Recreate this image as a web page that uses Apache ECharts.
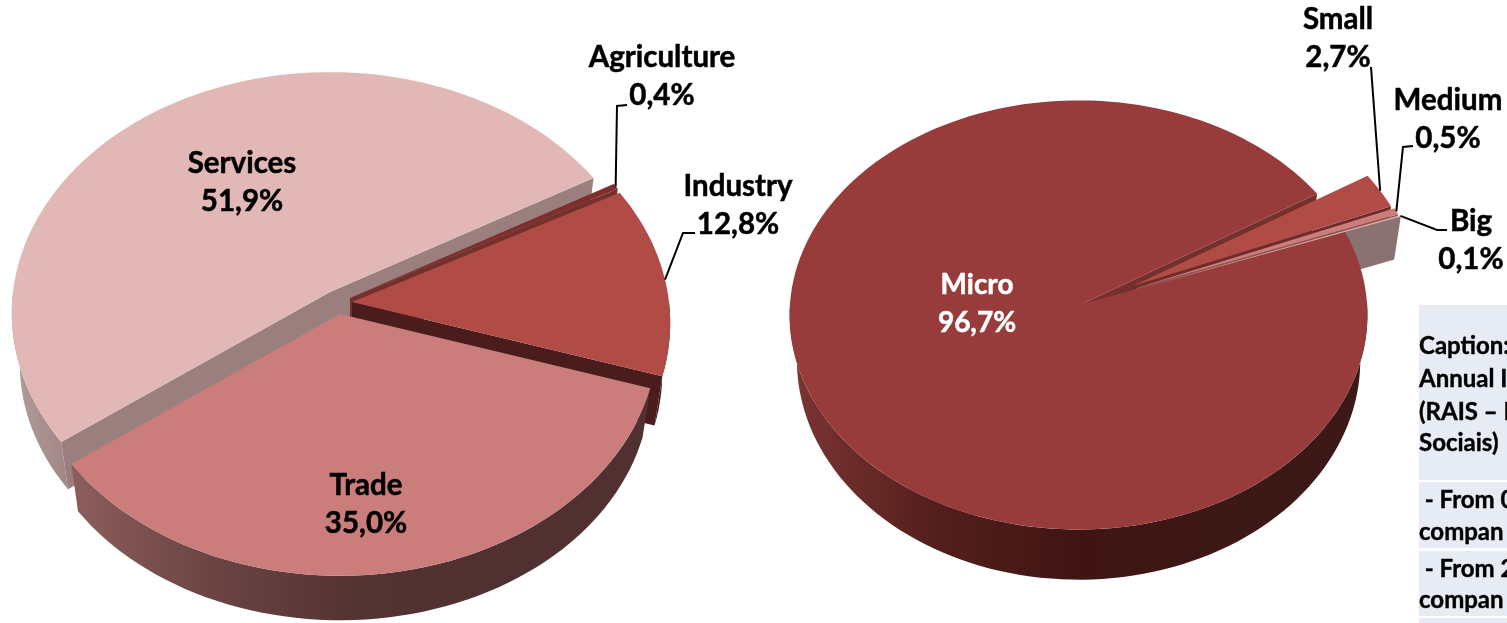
<!DOCTYPE html>
<html>
<head>
<meta charset="utf-8">
<style>
	html, body { margin: 0; padding: 0; background: #fff; }
	#chart { width: 1507px; height: 623px; }
</style>
<script src="https://cdn.jsdelivr.net/npm/echarts@6/dist/echarts.min.js"></script>
</head>
<body>
<div id="chart"></div>
<script>
var sectorNames = ["Services", "Agriculture", "Industry", "Trade"];
var sectorValues = [51.9, 0.4, 12.8, 35.0];
var sizeNames = ["Micro", "Small", "Medium", "Big"];
var sizeValues = [96.7, 2.7, 0.5, 0.1];
var captionRows = [
	["Caption:", "Annual I", "(RAIS – I", "Sociais)"],
	[" - From 0", "compan"],
	[" - From 2", "compan"]
];

function hGrad(stops) {
	return new echarts.graphic.LinearGradient(0, 0, 1, 0, stops.map(function (c, i) {
		return { offset: i / (stops.length - 1), color: c };
	}));
}

// 左圓餅
var sectorPie = {
	names: sectorNames,
	values: sectorValues,
	start: 143.5,
	rx: 317,
	ry: 239,
	k: 0.087,
	m: 0,
	depth: 51,
	depthTilt: 0,
	depthScale: 0.975,
	apex: [[330, 292], [350, 298], [352, 302], [340, 314]],
	top: ["#e1b8b5", "#7d2f2c", "#b14b46", "#cb7d7b"],
	wall: ["#9a7f7e", "#74302d", "#4a1c1c", "#50302f"],
	rim: [
		hGrad(["#b39c9a", "#a18685"]),
		"#74302d",
		"#4a1c1c",
		hGrad(["#8c5d5c", "#6a4443", "#533232", "#503030", "#503030"])
	],
	label: [[242, 182], [662, 76], [738, 205], [366, 504]],
	labelSize: [29.5, 29.5, 29.5, 29.5],
	textColor: ["#000", "#000", "#000", "#000"],
	leader: [null, [[617, 106], [627, 105]], [[683, 233], [695, 233]], null]
};
// 右圓餅
var sizePie = {
	names: sizeNames,
	values: sizeValues,
	start: -20.4,
	rx: 288.5,
	ry: 214,
	k: 0.051,
	m: -0.012,
	depth: 45,
	depthTilt: 0.24,
	depthScale: 0.975,
	apex: [[1082, 304], [1132.5, 286], [1136, 288], [1138, 289]],
	top: ["#973c3b", "#b14b46", "#cb7d7b", "#e1b8b5"],
	wall: ["#74302d", "#6d2b2a", "#8f5553", "#8a7172"],
	rim: [hGrad(["#7c3533", "#541f1d", "#3f1513", "#3c1816", "#3c1816"]), "#4a1c1c", "#50302f", "#8a7172"],
	label: [[977, 304], [1338, 38], [1448, 119], [1471, 240]],
	labelSize: [28, 29.5, 29.5, 29.5],
	textColor: ["#fff", "#000", "#000", "#000"],
	leader: [null, [[1371, 67]], [[1403, 147], [1413, 146]], [[1437, 230], [1447, 230]]]
};

// 圓周上的點
function project(pie, i, deg, lower) {
	var a = deg * Math.PI / 180;
	var c = Math.cos(a);
	var s = Math.sin(a);
	var w = 1 - pie.k * s - pie.m * c;
	var scale = lower ? pie.depthScale : 1;
	var drop = lower ? pie.depth * (1 + pie.depthTilt * s) : 0;
	return [
		pie.apex[i][0] + pie.rx * c / w * scale,
		pie.apex[i][1] + drop + pie.ry * s / w * scale
	];
}

function sliceAngles(pie) {
	var total = pie.values.reduce(function (p, c) { return p + c; }, 0);
	var from = pie.start;
	return pie.values.map(function (v) {
		var to = from + v / total * 360;
		var r = [from, to];
		from = to;
		return r;
	});
}

function arc(pie, i, a1, a2, lower) {
	var pts = [];
	var n = Math.max(1, Math.ceil((a2 - a1) / 2));
	for (var j = 0; j <= n; j++) {
		pts.push(project(pie, i, a1 + (a2 - a1) * j / n, lower));
	}
	return pts;
}

function poly(points, fill) {
	return { type: "polygon", shape: { points: points }, style: { fill: fill } };
}

function radialWall(pie, i, deg, fill) {
	var apexLow = [pie.apex[i][0], pie.apex[i][1] + pie.depth];
	return poly([pie.apex[i], project(pie, i, deg, false), project(pie, i, deg, true), apexLow], fill);
}

function renderWalls(pie) {
	var angles = sliceAngles(pie);
	return function (params) {
		var i = params.dataIndex;
		var a1 = angles[i][0];
		var a2 = angles[i][1];
		var children = [];
		if (Math.cos(a1 * Math.PI / 180) < 0) {
			children.push(radialWall(pie, i, a1, pie.wall[i]));
		}
		if (Math.cos(a2 * Math.PI / 180) > 0) {
			children.push(radialWall(pie, i, a2, pie.wall[i]));
		}
		// 外側只畫下半圈
		[0, 360].forEach(function (base) {
			var from = Math.max(a1, base);
			var to = Math.min(a2, base + 180);
			if (to > from) {
				var upper = arc(pie, i, from, to, false);
				var lower = arc(pie, i, from, to, true).reverse();
				children.push(poly(upper.concat(lower), pie.rim[i]));
			}
		});
		return { type: "group", children: children };
	};
}

function renderTops(pie) {
	var angles = sliceAngles(pie);
	return function (params) {
		var i = params.dataIndex;
		return poly([pie.apex[i]].concat(arc(pie, i, angles[i][0], angles[i][1], false)), pie.top[i]);
	};
}

function renderLabels(pie) {
	var angles = sliceAngles(pie);
	return function (params) {
		var i = params.dataIndex;
		var children = [{
			type: "text",
			x: pie.label[i][0],
			y: pie.label[i][1],
			style: {
				text: pie.names[i] + "\n" + pie.values[i].toFixed(1).replace(".", ",") + "%",
				font: "bold " + pie.labelSize[i] + "px Lato",
				lineHeight: 38,
				align: "center",
				verticalAlign: "middle",
				fill: pie.textColor[i],
				stroke: pie.textColor[i],
				lineWidth: 0.5
			}
		}];
		if (pie.leader[i]) {
			var mid = (angles[i][0] + angles[i][1]) / 2;
			children.push({
				type: "polyline",
				shape: { points: [project(pie, i, mid, false)].concat(pie.leader[i]) },
				style: { stroke: "#000", lineWidth: 2, fill: "none" }
			});
		}
		return { type: "group", children: children };
	};
}

function pieSeries(pie) {
	return [
		{ type: "custom", coordinateSystem: "none", z: 1, silent: true, data: pie.values, renderItem: renderWalls(pie) },
		{ type: "custom", coordinateSystem: "none", z: 2, silent: true, data: pie.values, renderItem: renderTops(pie) },
		{ type: "custom", coordinateSystem: "none", z: 3, silent: true, data: pie.values, renderItem: renderLabels(pie) }
	];
}

// 說明表格
function captionGraphics() {
	var boxes = [[305, 175], [482, 66], [551, 65], [618, 10]];
	var textTops = [[346, 379, 412, 443], [500, 532], [569, 600]];
	var items = boxes.map(function (b) {
		return { type: "rect", shape: { x: 1419, y: b[0], width: 88, height: b[1] }, style: { fill: "#e7ebf3" } };
	});
	captionRows.forEach(function (row, r) {
		row.forEach(function (line, l) {
			items.push({
				type: "text",
				x: 1419,
				y: textTops[r][l],
				style: { text: line, font: "bold 24px Lato", fill: "#000", stroke: "#000", lineWidth: 0.4, verticalAlign: "middle" }
			});
		});
	});
	return items;
}

var myChart = echarts.init(document.getElementById("chart"), null, { renderer: "canvas" });
myChart.setOption({
	backgroundColor: "#fff",
	animation: false,
	graphic: captionGraphics(),
	series: pieSeries(sectorPie).concat(pieSeries(sizePie))
});
</script>
</body>
</html>
